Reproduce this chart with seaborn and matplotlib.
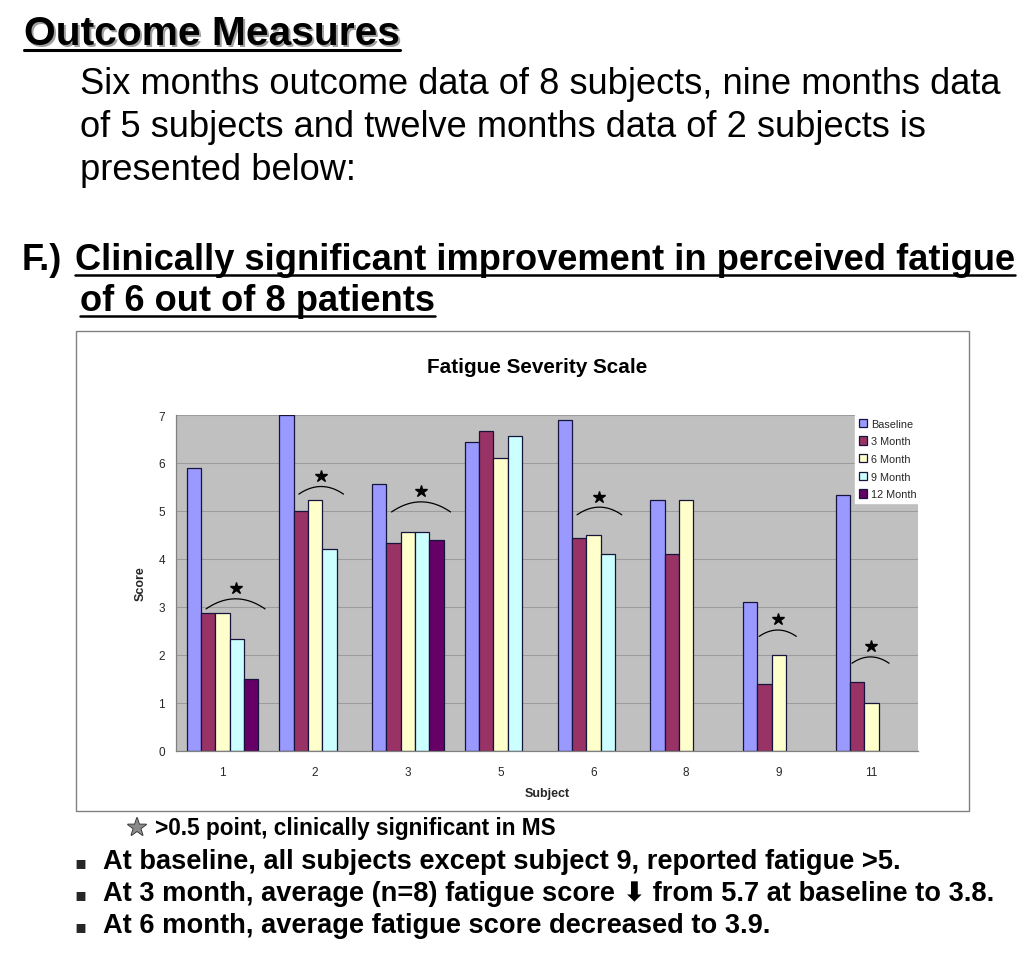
import numpy as np
import pandas as pd
import matplotlib
matplotlib.use('Agg')
import matplotlib.pyplot as plt
import matplotlib.patheffects as pe
from matplotlib.patches import Rectangle
from matplotlib.lines import Line2D
import seaborn as sns

# ---- data ----
subjects = ['1', '2', '3', '5', '6', '8', '9', '11']
visits = ['Baseline', '3 Month', '6 Month', '9 Month', '12 Month']
baseline = [5.89, 7.00, 5.56, 6.44, 6.89, 5.22, 3.10, 5.33]
month3 = [2.88, 5.00, 4.33, 6.67, 4.44, 4.11, 1.40, 1.44]
month6 = [2.88, 5.22, 4.56, 6.11, 4.50, 5.22, 2.00, 1.00]
month9 = [2.33, 4.20, 4.56, 6.56, 4.11, None, None, None]
month12 = [1.50, None, 4.40, None, None, None, None, None]
colors = ['#9999FF', '#993366', '#FFFFCC', '#CCFFFF', '#660066']

# subjects marked with a star and the height of the arc above their bars
star_subjects = ['1', '2', '3', '6', '9', '11']
arc_tops = [3.17, 5.51, 5.19, 5.08, 2.52, 1.96]

rows = []
for name, vals in zip(visits, [baseline, month3, month6, month9, month12]):
    for subj, v in zip(subjects, vals):
        if v is not None:
            rows.append({'Subject': subj, 'Visit': name, 'Score': v})
df = pd.DataFrame(rows)

sns.set_style('white')
FONTS = ['Liberation Sans', 'DejaVu Sans']
plt.rcParams['font.family'] = FONTS

W, H = 1024, 954
fig = plt.figure(figsize=(W / 100, H / 100), dpi=100)
renderer = fig.canvas.get_renderer()


def put_text(x, y, s, width=None, size=20, weight='bold', color='black', ha='left', family=FONTS):
    """Text at pixel position (x, baseline y from top); optionally fit to a pixel width"""
    t = fig.text(x / W, 1 - y / H, s, fontsize=size, fontweight=weight, color=color,
                 ha=ha, va='baseline', family=family)
    if width is not None:
        w = t.get_window_extent(renderer).width
        t.set_fontsize(size * width / w)
    return t


def underline(t, y, lw=1.8):
    bb = t.get_window_extent(renderer)
    fig.add_artist(Line2D([bb.x0 / W, bb.x1 / W], [1 - y / H, 1 - y / H],
                          transform=fig.transFigure, color='black', lw=lw))


# ---- slide text ----
shadow = put_text(26, 47, 'Outcome Measures', width=376, color='#a0a0a0')
head = put_text(24, 45, 'Outcome Measures', width=376)
underline(head, 51, lw=2.2)

para = ['Six months outcome data of 8 subjects, nine months data',
        'of 5 subjects and twelve months data of 2 subjects is',
        'presented below:']
p1 = put_text(80, 94, para[0], width=920, weight='normal')
psize = p1.get_fontsize()
put_text(80, 137, para[1], size=psize, weight='normal')
put_text(80, 180, para[2], size=psize, weight='normal')

f1 = put_text(75, 270, 'Clinically significant improvement in perceived fatigue', width=938)
fsize = f1.get_fontsize()
put_text(22, 270, 'F.)', size=fsize)
underline(f1, 276)
f2 = put_text(80, 311, 'of 6 out of 8 patients', size=fsize)
underline(f2, 317)

# ---- chart frame ----
fig.add_artist(Rectangle((76 / W, 1 - 812 / H), (969 - 76) / W, (812 - 332) / H,
                         transform=fig.transFigure, fill=False, edgecolor='#808080', lw=1))

ax = fig.add_axes([176 / W, 1 - 752 / H, 742 / W, 336 / H])
ax.set_facecolor('#C0C0C0')

sns.barplot(data=df, x='Subject', y='Score', hue='Visit', order=subjects, hue_order=visits,
            palette=dict(zip(visits, colors)), saturation=1, width=0.77, errorbar=None,
            edgecolor='#14143c', linewidth=0.9, ax=ax)

ax.set_ylim(0, 7)
ax.set_yticks(range(0, 8))
ax.yaxis.grid(True, color='#9c9c9c', lw=0.8)
ax.set_axisbelow(True)
for side in ['top', 'right']:
    ax.spines[side].set_visible(False)
for side in ['left', 'bottom']:
    ax.spines[side].set_color('#808080')
    ax.spines[side].set_linewidth(0.9)
ax.tick_params(axis='y', which='major', direction='out', length=4, color='#808080',
               labelsize=8.5, pad=4)
ax.tick_params(axis='x', which='major', length=0, labelsize=8.5, pad=11)
ax.set_xticks(np.arange(-0.5, len(subjects), 1), minor=True)
ax.tick_params(axis='x', which='minor', direction='out', length=4, color='#808080')
ax.set_xlim(-0.5, len(subjects) - 0.5)
ax.set_xlabel('Subject', fontsize=9, fontweight='bold', labelpad=6)
ax.set_ylabel('Score', fontsize=9, fontweight='bold', labelpad=8)

ttl = put_text(537, 373, 'Fatigue Severity Scale', width=220, ha='center')

leg = ax.legend(loc='upper left', bbox_to_anchor=(0.915, 1.0), borderaxespad=0,
                fontsize=7.8, frameon=True, fancybox=False, framealpha=1,
                facecolor='white', edgecolor='white', handlelength=0.8,
                handleheight=0.8, handletextpad=0.3, labelspacing=0.7, borderpad=0.35)

# ---- stars and arcs over the follow-up bars ----
centers = {}
bar_w = 0.154
for k, cont in enumerate(ax.containers):
    if k == 0:
        continue
    for bar in cont:
        cx = bar.get_x() + bar.get_width() / 2
        bar_w = bar.get_width()
        centers.setdefault(int(round(cx)), []).append(cx)

t = np.linspace(-1, 1, 60)
for subj, top in zip(star_subjects, arc_tops):
    xs = centers[subjects.index(subj)]
    lo, hi = min(xs), max(xs)
    w = max(hi - lo + bar_w + 0.02, 0.40)
    cx = (lo + hi) / 2 + 0.065
    sag = 0.33 * w
    ax.plot(cx + w / 2 * t, top - sag * t ** 2, color='black', lw=0.9)
    ax.plot(cx, top + 0.22, marker='*', ms=9, color='black', mec='black')

# ---- notes below the chart ----
star = fig.text(137 / W, 1 - 836 / H, '\u2605', fontsize=17, color='#8a8a8a', ha='center',
                va='baseline', family=['DejaVu Sans'])
star.set_path_effects([pe.withStroke(linewidth=1.2, foreground='#303030')])
put_text(155, 835, '>0.5 point, clinically significant in MS', width=400)

bullet_y = [869, 901, 933]
pieces = ['At 3 month, average (n=8) fatigue score ', '\u2b07', ' from 5.7 at baseline to 3.8.']


def second_bullet(size):
    # built from pieces so the heavy arrow can come from DejaVu Sans
    out = []
    x = 103
    for s in pieces:
        if s == '\u2b07':
            p = put_text(x, bullet_y[1], s, size=size, family=['DejaVu Sans'])
        else:
            p = put_text(x, bullet_y[1], s, size=size)
        x = p.get_window_extent(renderer).x1
        out.append(p)
    return out, x


b1 = put_text(103, bullet_y[0], 'At baseline, all subjects except subject 9, reported fatigue >5.',
              width=854)
bsize = b1.get_fontsize()
parts, x_end = second_bullet(bsize)
if x_end > 995:
    for p in parts:
        p.remove()
    bsize = bsize * (995 - 103) / (x_end - 103)
    b1.set_fontsize(bsize)
    parts, x_end = second_bullet(bsize)

put_text(103, bullet_y[2], 'At 6 month, average fatigue score decreased to 3.9.', size=bsize)
for y in bullet_y:
    fig.text(80 / W, 1 - (y - 1) / H, '\u25aa', fontsize=bsize * 0.65, ha='center',
             va='baseline', family=['DejaVu Sans'])

fig.savefig('out.png', dpi=100)
